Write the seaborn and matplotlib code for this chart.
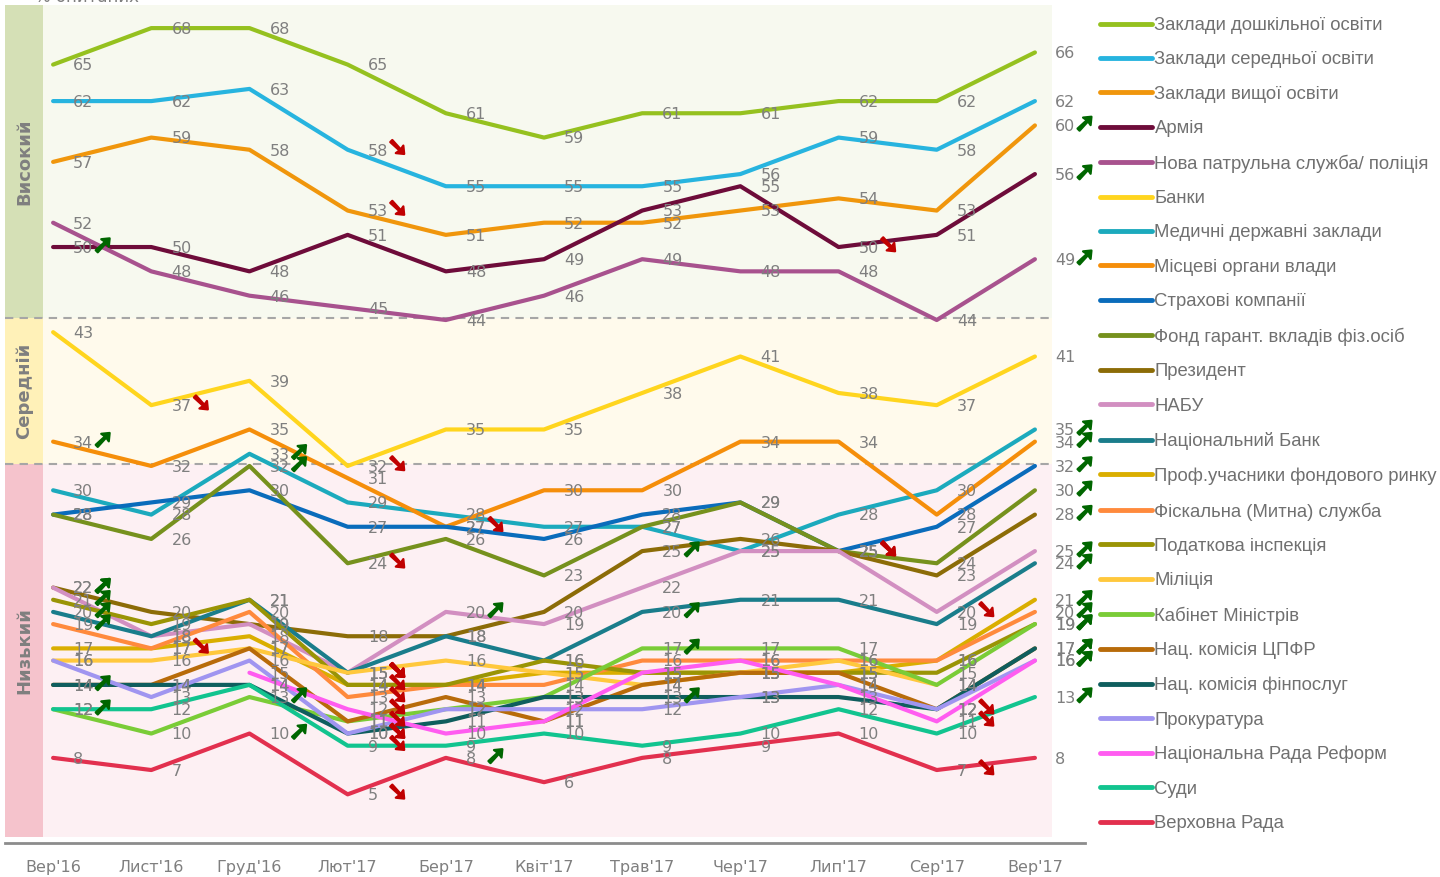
import numpy as np
import pandas as pd
import matplotlib
matplotlib.use('Agg')
import matplotlib.pyplot as plt
import matplotlib.patheffects as pe
from matplotlib.lines import Line2D
import seaborn as sns

# months of survey waves
months = ["Вер'16", "Лист'16", "Груд'16", "Лют'17", "Бер'17", "Квіт'17",
          "Трав'17", "Чер'17", "Лип'17", "Сер'17", "Вер'17"]

nan = np.nan
names = ["Заклади дошкільної освіти", "Заклади середньої освіти", "Заклади вищої освіти",
         "Армія", "Нова патрульна служба/ поліція", "Банки", "Медичні державні заклади",
         "Місцеві органи влади", "Страхові компанії", "Фонд гарант. вкладів фіз.осіб",
         "Президент", "НАБУ", "Національний Банк", "Проф.учасники фондового ринку",
         "Фіскальна (Митна) служба", "Податкова інспекція", "Міліція", "Кабінет Міністрів",
         "Нац. комісія ЦПФР", "Нац. комісія фінпослуг", "Прокуратура",
         "Національна Рада Реформ", "Суди", "Верховна Рада"]

doshk    = [65, 68, 68, 65, 61, 59, 61, 61, 62, 62, 66]
seredn   = [62, 62, 63, 58, 55, 55, 55, 56, 59, 58, 62]
vyshch   = [57, 59, 58, 53, 51, 52, 52, 53, 54, 53, 60]
armiya   = [50, 50, 48, 51, 48, 49, 53, 55, 50, 51, 56]
politsiya = [52, 48, 46, 45, 44, 46, 49, 48, 48, 44, 49]
banky    = [43, 37, 39, 32, 35, 35, 38, 41, 38, 37, 41]
medychni = [30, 28, 33, 29, 28, 27, 27, 25, 28, 30, 35]
mistsevi = [34, 32, 35, 31, 27, 30, 30, 34, 34, 28, 34]
strakhovi = [28, 29, 30, 27, 27, 26, 28, 29, 25, 27, 32]
fond     = [28, 26, 32, 24, 26, 23, 27, 29, 25, 24, 30]
prezydent = [22, 20, 19, 18, 18, 20, 25, 26, 25, 23, 28]
nabu     = [22, 18, 19, 15, 20, 19, 22, 25, 25, 20, 25]
natsbank = [20, 18, 21, 15, 18, 16, 20, 21, 21, 19, 24]
prof     = [17, 17, 18, 14, 14, 15, 15, 15, 15, 16, 21]
fiskal   = [19, 17, 20, 13, 14, 14, 16, 16, 16, 16, 20]
podatk   = [21, 19, 21, 14, 14, 16, 15, 15, 15, 15, 19]
militsiya = [16, 16, 17, 15, 16, 15, 14, 15, 16, 14, nan]
kabmin   = [12, 10, 13, 11, 12, 13, 17, 17, 17, 14, 19]
tspfr    = [14, 14, 17, 11, 13, 11, 14, 15, 15, 12, 17]
finposl  = [14, 14, 14, 10, 11, 13, 13, 13, 13, 12, 17]
prokur   = [16, 13, 16, 10, 12, 12, 12, 13, 14, 12, 16]
radaref  = [nan, nan, 15, 12, 10, 11, 15, 16, 14, 11, 16]
sudy     = [12, 12, 14, 9, 9, 10, 9, 10, 12, 10, 13]
vr       = [8, 7, 10, 5, 8, 6, 8, 9, 10, 7, 8]

series = [doshk, seredn, vyshch, armiya, politsiya, banky, medychni, mistsevi,
          strakhovi, fond, prezydent, nabu, natsbank, prof, fiskal, podatk,
          militsiya, kabmin, tspfr, finposl, prokur, radaref, sudy, vr]

colors = ["#95C11F", "#27B4DF", "#F0960C", "#6E0C3A", "#A8528E", "#FFD51E",
          "#1CAABD", "#F58E0A", "#0A6CBB", "#76911D", "#8C6C07", "#D28FC1",
          "#1A7D8B", "#DAAE00", "#FF8A3D", "#9A9405", "#FFC83D", "#7ACC37",
          "#B86B0A", "#0F5E5E", "#A095F0", "#FF5CF0", "#12C48F", "#E2304E"]

# trend arrows: (series index, month index)
up_arrows = [(3, 0), (7, 0), (10, 0), (11, 0), (15, 0), (12, 0), (14, 0), (18, 0), (22, 0),
             (6, 2), (9, 2), (17, 2), (23, 2),
             (11, 4), (23, 4),
             (10, 6), (12, 6), (17, 6), (19, 6),
             (2, 10), (3, 10), (4, 10), (6, 10), (7, 10), (8, 10), (9, 10), (10, 10),
             (11, 10), (12, 10), (13, 10), (14, 10), (15, 10), (17, 10), (18, 10),
             (19, 10), (20, 10), (21, 10), (22, 10)]
down_arrows = [(5, 1), (13, 1),
               (1, 3), (2, 3), (5, 3), (9, 3), (11, 3), (12, 3), (16, 3), (15, 3),
               (14, 3), (21, 3), (18, 3), (20, 3), (19, 3), (22, 3), (23, 3),
               (8, 4),
               (3, 8), (9, 8), (11, 8),
               (11, 9), (20, 9), (21, 9), (23, 9)]

rows = []
for n, vals in zip(names, series):
    for i, v in enumerate(vals):
        rows.append({'series': n, 'idx': i, 'value': v})
df = pd.DataFrame(rows).dropna()

sns.set_style('white')
plt.rcParams['font.family'] = ['DejaVu Sans']

fig = plt.figure(figsize=(14.4, 8.77), dpi=100)
ax = fig.add_axes([5 / 1440, 1 - 843 / 877, 1080 / 1440, 838 / 877])
ax.set_xlim(-0.49, 10.51)
ax.set_ylim(1.0, 69.9)

# level bands
x_in = (43 - 5) / 1080
x_out = (1052 - 5) / 1080
bands = [(44.2, 69.9, '#F7F9EF', '#D5E0B6', 'Високий'),
         (32.2, 44.2, '#FFFAEC', '#FFF1B8', 'Середній'),
         (1.5, 32.2, '#FDF0F3', '#F5C3CC', 'Низький')]
for lo, hi, bg, strip, lab in bands:
    ax.axhspan(lo, hi, xmin=x_in, xmax=x_out, color=bg, lw=0, zorder=0)
    ax.axhspan(lo, hi, xmin=0, xmax=x_in, color=strip, lw=0, zorder=0)
    ax.text(x_in / 2, (lo + hi) / 2, lab, transform=ax.get_yaxis_transform(),
            rotation=90, ha='center', va='center', fontsize=13, fontweight='bold',
            color='#7F7F7F')
for yb in [44.2, 32.2]:
    ax.axhline(yb, xmin=0, xmax=x_out, ls=(0, (4, 3)), color='#A6A6A6', lw=1.5, zorder=1)

sns.lineplot(data=df, x='idx', y='value', hue='series', hue_order=names,
             palette=dict(zip(names, colors)), lw=3, estimator=None,
             legend=False, ax=ax, zorder=3)

# data labels
for vals in series:
    for i, v in enumerate(vals):
        if np.isnan(v):
            continue
        ax.annotate(f'{int(v)}', (i, v), xytext=(14.5, -1), textcoords='offset points',
                    ha='left', va='center', fontsize=11.5, color='#7F7F7F', zorder=5)

# trend arrows as heavy arrow glyphs, thickened with a stroke
for s, i in up_arrows:
    ax.annotate('\u279a', (i, series[s][i]), xytext=(36, 1), textcoords='offset points',
                ha='center', va='center', fontsize=18, color='#006600', zorder=6,
                path_effects=[pe.withStroke(linewidth=1.6, foreground='#006600')])
for s, i in down_arrows:
    ax.annotate('\u2798', (i, series[s][i]), xytext=(36, 1), textcoords='offset points',
                ha='center', va='center', fontsize=18, color='#C00000', zorder=6,
                path_effects=[pe.withStroke(linewidth=1.6, foreground='#C00000')])

ax.set_xticks(range(len(months)))
ax.set_xticklabels(months, fontsize=11.5, color='#7F7F7F')
ax.tick_params(axis='x', length=0, pad=12)
ax.set_yticks([])
ax.set_xlabel('')
ax.set_ylabel('')
for sp in ['top', 'left', 'right']:
    ax.spines[sp].set_visible(False)
ax.spines['bottom'].set_color('#8C8C8C')
ax.spines['bottom'].set_linewidth(2)

fig.text(35 / 1440, 1 - 2 / 877, '% опитаних', fontsize=12, color='#7F7F7F', va='baseline')

handles = [Line2D([0], [0], color=c, lw=3.5, solid_capstyle='round') for c in colors]
leg = fig.legend(handles, names, loc='upper left', bbox_to_anchor=(1100 / 1440, 1 - 17 / 877),
                 frameon=False, prop={'family': 'Liberation Sans', 'size': 13.3},
                 handlelength=2.8, handletextpad=0.15, labelspacing=0.94,
                 borderpad=0, borderaxespad=0)
for t in leg.get_texts():
    t.set_color('#707070')

fig.savefig('out.png', dpi=100)
